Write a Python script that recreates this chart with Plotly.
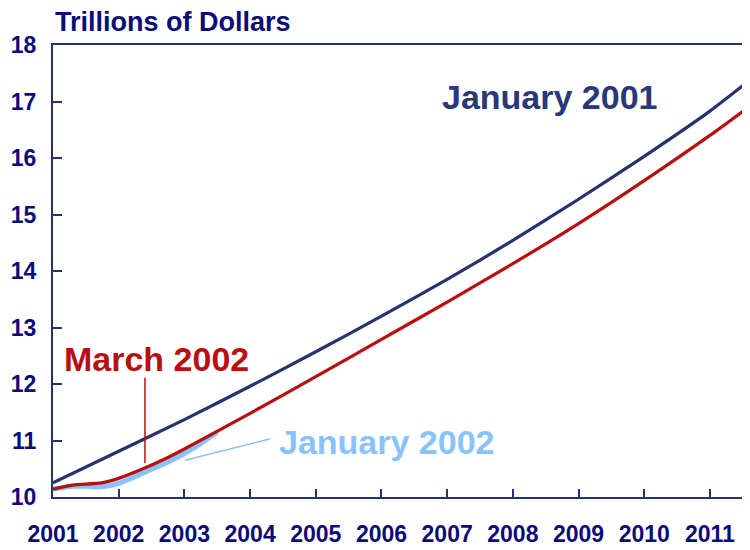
import plotly.graph_objects as go

# Data, trillions of dollars
years_jan2001 = [2001.0, 2002.0, 2003.0, 2004.0, 2005.0, 2006.0, 2007.0, 2008.0, 2009.0, 2010.0, 2011.0, 2011.61]
vals_jan2001 = [10.25, 10.81, 11.37, 11.96, 12.57, 13.20, 13.85, 14.54, 15.27, 16.03, 16.83, 17.38]

years_mar2002 = [2001.0, 2001.3, 2001.74, 2002.0, 2002.37, 2002.75, 2003.0, 2004.0, 2005.0, 2006.0, 2007.0, 2008.0, 2009.0, 2010.0, 2011.0, 2011.61]
vals_mar2002 = [10.14, 10.21, 10.25, 10.33, 10.50, 10.70, 10.85, 11.48, 12.13, 12.79, 13.45, 14.13, 14.84, 15.60, 16.40, 16.92]

years_jan2002 = [2001.0, 2001.3, 2001.5, 2001.75, 2002.0, 2002.25, 2002.5, 2002.75, 2003.0, 2003.25, 2003.5]
vals_jan2002 = [10.14, 10.19, 10.19, 10.18, 10.24, 10.36, 10.49, 10.62, 10.77, 10.95, 11.15]

x_ticks = list(range(2001, 2012))
y_ticks = list(range(10, 19))

NAVY_TXT = "#0B0B7A"
NAVY = "#26336F"
RED = "#B80F0F"
LBLUE = "#88C2FF"
FONT = "Arial, Liberation Sans, sans-serif"

fig = go.Figure()
fig.add_trace(go.Scatter(x=years_jan2002, y=vals_jan2002, mode="lines",
                         line=dict(color=LBLUE, width=5, shape="spline", smoothing=0.6),
                         hoverinfo="skip", showlegend=False))
fig.add_trace(go.Scatter(x=years_jan2001, y=vals_jan2001, mode="lines",
                         line=dict(color=NAVY, width=3.2, shape="spline", smoothing=0.6),
                         showlegend=False))
fig.add_trace(go.Scatter(x=years_mar2002, y=vals_mar2002, mode="lines",
                         line=dict(color=RED, width=3.2, shape="spline", smoothing=0.6),
                         showlegend=False))

# leader lines
fig.add_shape(type="line", x0=2002.40, x1=2002.40, y0=12.11, y1=10.60,
              line=dict(color=RED, width=1.5), layer="above")
fig.add_shape(type="line", x0=2003.01, y0=10.65, x1=2004.31, y1=11.03,
              line=dict(color=LBLUE, width=1.5), layer="above")

fig.add_annotation(x=2008.56, y=17.08, text="January 2001", showarrow=False,
                   font=dict(family=FONT, size=34, color="#283878", weight="bold"),
                   xanchor="center", yanchor="middle")
fig.add_annotation(x=2002.58, y=12.44, text="March 2002", showarrow=False,
                   font=dict(family=FONT, size=34, color=RED, weight="bold"),
                   xanchor="center", yanchor="middle")
fig.add_annotation(x=2006.08, y=10.98, text="January 2002", showarrow=False,
                   font=dict(family=FONT, size=34, color=LBLUE, weight="bold"),
                   xanchor="center", yanchor="middle")
fig.add_annotation(xref="paper", yref="paper", x=0, y=1.0, yshift=6,
                   text="Trillions of Dollars", showarrow=False,
                   font=dict(family=FONT, size=27, color=NAVY_TXT, weight="bold"),
                   xanchor="left", yanchor="bottom")

# page body has an 8px default margin; plot area placed so it lands at
# screen x 53..750, y 45..497
fig.update_layout(
    width=750, height=550,
    margin=dict(l=45, r=8, t=37, b=61),
    paper_bgcolor="white", plot_bgcolor="white",
    xaxis=dict(range=[2001, 2011.61], tickvals=x_ticks, ticktext=[str(t) for t in x_ticks],
               showgrid=False, zeroline=False, showline=True, linecolor=NAVY, linewidth=2,
               mirror=True, ticks="inside", ticklen=8, tickwidth=2, tickcolor=NAVY,
               tickfont=dict(family=FONT, size=23, color=NAVY_TXT, weight="bold"),
               ticklabelstandoff=15, automargin=False),
    yaxis=dict(range=[10, 18], tickvals=y_ticks, ticktext=[str(t) for t in y_ticks],
               showgrid=False, zeroline=False, showline=True, linecolor=NAVY, linewidth=2,
               ticks="inside", ticklen=9, tickwidth=2, tickcolor=NAVY,
               tickfont=dict(family=FONT, size=23, color=NAVY_TXT, weight="bold"),
               ticklabelstandoff=10, automargin=False),
)

fig.write_html("out.html")
